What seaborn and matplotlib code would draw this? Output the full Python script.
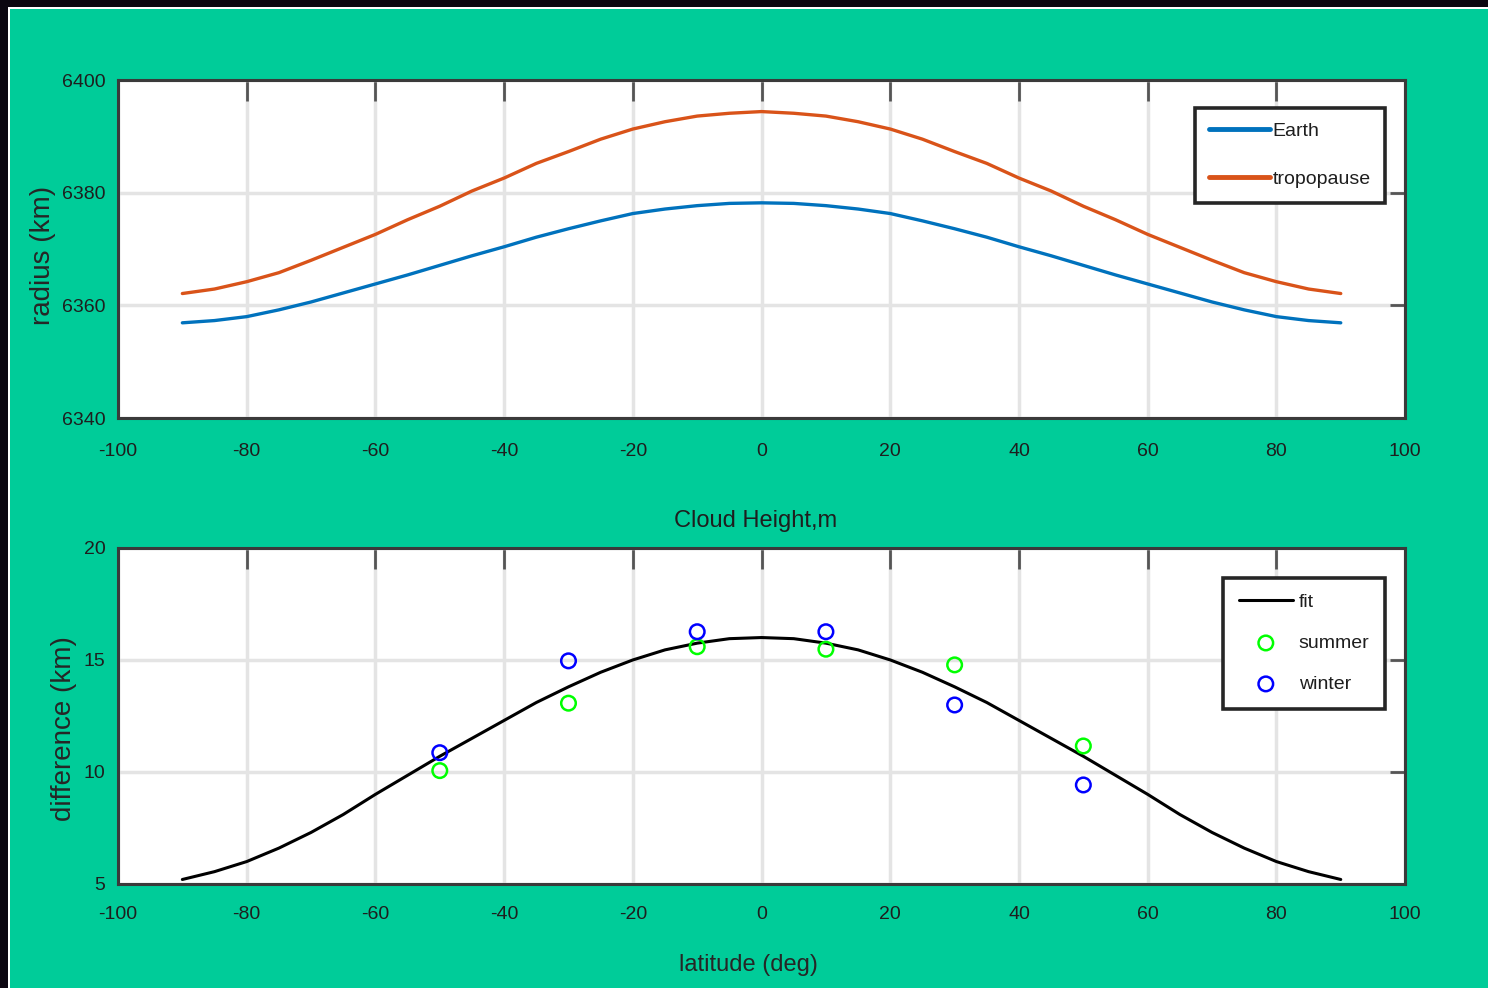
import matplotlib
matplotlib.use("Agg")
import matplotlib.pyplot as plt
import matplotlib.patches as patches
import numpy as np
import pandas as pd
import seaborn as sns

# latitude grid of the curves (deg)
lat = [-90, -85, -80, -75, -70, -65, -60, -55, -50, -45, -40, -35, -30, -25, -20, -15, -10, -5, 0,
       5, 10, 15, 20, 25, 30, 35, 40, 45, 50, 55, 60, 65, 70, 75, 80, 85, 90]

# radius of the earth and of the tropopause (km)
earth_km = [6356.9, 6357.3, 6358.0, 6359.2, 6360.6, 6362.2, 6363.8, 6365.4, 6367.1, 6368.8, 6370.4,
            6372.1, 6373.6, 6375.0, 6376.3, 6377.1, 6377.7, 6378.1, 6378.2,
            6378.1, 6377.7, 6377.1, 6376.3, 6375.0, 6373.6, 6372.1, 6370.4, 6368.8, 6367.1, 6365.4,
            6363.8, 6362.2, 6360.6, 6359.2, 6358.0, 6357.3, 6356.9]
tropo_km = [6362.1, 6362.9, 6364.2, 6365.8, 6368.0, 6370.3, 6372.6, 6375.2, 6377.6, 6380.3, 6382.6,
            6385.2, 6387.3, 6389.5, 6391.3, 6392.6, 6393.6, 6394.1, 6394.4,
            6394.1, 6393.6, 6392.6, 6391.3, 6389.5, 6387.3, 6385.2, 6382.6, 6380.3, 6377.6, 6375.2,
            6372.6, 6370.3, 6368.0, 6365.8, 6364.2, 6362.9, 6362.1]

# fitted cloud height difference (km), bottom panel
fit_km = [5.2, 5.55, 6.0, 6.6, 7.3, 8.1, 9.0, 9.85, 10.7, 11.5, 12.3, 13.1, 13.8, 14.45, 15.0, 15.45,
          15.75, 15.95, 16.0,
          15.95, 15.75, 15.45, 15.0, 14.45, 13.8, 13.1, 12.3, 11.5, 10.7, 9.85, 9.0, 8.1, 7.3, 6.6,
          6.0, 5.55, 5.2]

# measured points
obs_lat = [-50, -30, -10, 10, 30, 50]
summer_km = [10.06, 13.07, 15.59, 15.48, 14.78, 11.16]
winter_km = [10.86, 14.96, 16.26, 16.26, 12.99, 9.42]

x_ticks = [-100, -80, -60, -40, -20, 0, 20, 40, 60, 80, 100]
radius_ticks = [6340, 6360, 6380, 6400]
diff_ticks = [5, 10, 15, 20]

TEAL = "#00cc99"
FONT = ["Liberation Sans", "DejaVu Sans"]

sns.set_theme(style="white")
plt.rcParams["font.family"] = FONT
plt.rcParams["axes.unicode_minus"] = False
plt.rcParams["text.color"] = "#1e1e1e"
plt.rcParams["xtick.color"] = "#1e1e1e"
plt.rcParams["ytick.color"] = "#1e1e1e"

df_top = pd.DataFrame({"lat": lat, "earth": earth_km, "tropopause": tropo_km})
df_fit = pd.DataFrame({"lat": lat, "fit": fit_km})
df_obs = pd.DataFrame({"lat": obs_lat, "summer": summer_km, "winter": winter_km})

fig = plt.figure(figsize=(14.88, 9.88), dpi=100, facecolor=TEAL)

# dark frame strips on the left/top edge like the screenshot
fig.patches.append(patches.Rectangle((0, 0), 8 / 1488, 1, transform=fig.transFigure,
                                     facecolor="#0b0610", edgecolor="none", zorder=0))
fig.patches.append(patches.Rectangle((0, 1 - 7 / 988), 1, 7 / 988, transform=fig.transFigure,
                                     facecolor="#0b0610", edgecolor="none", zorder=0))
fig.patches.append(patches.Rectangle((8 / 1488, 0), 2 / 1488, 1 - 7 / 988, transform=fig.transFigure,
                                     facecolor="white", edgecolor="none", zorder=0))
fig.patches.append(patches.Rectangle((8 / 1488, 1 - 9 / 988), 1, 2 / 988, transform=fig.transFigure,
                                     facecolor="white", edgecolor="none", zorder=0))

ax1 = fig.add_axes([0.0793, 0.5769, 0.865, 0.3421])
ax2 = fig.add_axes([0.0793, 0.1053, 0.865, 0.3401])


def style_axes(ax):
    ax.set_facecolor("white")
    ax.grid(True, color="#e4e4e4", linewidth=2.5)
    ax.set_axisbelow(True)
    for s in ax.spines.values():
        s.set_visible(True)
        s.set_color("#3a3a3a")
        s.set_linewidth(2.2)
    ax.tick_params(axis="both", which="major", direction="in", top=True, right=True,
                   width=2, colors="#555555", labelcolor="#1e1e1e", labelsize=14)
    ax.tick_params(axis="x", length=15, pad=18)
    ax.tick_params(axis="y", length=11, pad=9)
    ax.set_xlim(-100, 100)
    ax.set_xticks(x_ticks)


# top panel: radii
sns.lineplot(data=df_top, x="lat", y="earth", color="#0072bd", linewidth=2.4, ax=ax1, label="Earth")
sns.lineplot(data=df_top, x="lat", y="tropopause", color="#d95319", linewidth=2.4, ax=ax1,
             label="tropopause")
style_axes(ax1)
ax1.set_ylim(6340, 6400)
ax1.set_yticks(radius_ticks)
ax1.set_xlabel("")
ax1.set_ylabel("radius (km)", fontsize=20, va="center")
ax1.yaxis.set_label_coords(-0.058, 0.48)
leg1 = ax1.legend(loc="upper right", bbox_to_anchor=(0.9845, 0.917), fontsize=14, frameon=True,
                  fancybox=False, framealpha=1, edgecolor="#262626", handlelength=3.1,
                  handletextpad=0.15, labelspacing=1.55, borderpad=0.75, borderaxespad=0)
leg1.get_frame().set_linewidth(2.6)
for h in leg1.get_lines():
    h.set_linewidth(3.5)

# bottom panel: cloud height difference
sns.lineplot(data=df_fit, x="lat", y="fit", color="black", linewidth=2.2, ax=ax2, label="fit")
sns.scatterplot(data=df_obs, x="lat", y="summer", marker="o", s=110, facecolors="none",
                edgecolor="#00ff00", linewidth=1.8, ax=ax2, label="summer", zorder=3)
sns.scatterplot(data=df_obs, x="lat", y="winter", marker="o", s=110, facecolors="none",
                edgecolor="#0000ff", linewidth=1.8, ax=ax2, label="winter", zorder=3)
style_axes(ax2)
ax2.set_ylim(5, 20)
ax2.set_yticks(diff_ticks)
ax2.tick_params(axis="x", pad=16)
ax2.set_title("Cloud Height,m", fontsize=17, y=1.08, va="center", pad=0, x=0.495)
ax2.set_xlabel("latitude (deg)", fontsize=17, va="center")
ax2.xaxis.set_label_coords(0.49, -0.241)
ax2.set_ylabel("difference (km)", fontsize=20, va="center")
ax2.yaxis.set_label_coords(-0.042, 0.461)
leg2 = ax2.legend(loc="upper right", bbox_to_anchor=(0.9845, 0.9107), fontsize=14, frameon=True,
                  fancybox=False, framealpha=1, edgecolor="#262626", handlelength=2.8,
                  handletextpad=0.3, labelspacing=1.2, borderpad=0.8, borderaxespad=0)
leg2.get_frame().set_linewidth(2.6)

fig.savefig("out.png", dpi=100, facecolor=fig.get_facecolor())
